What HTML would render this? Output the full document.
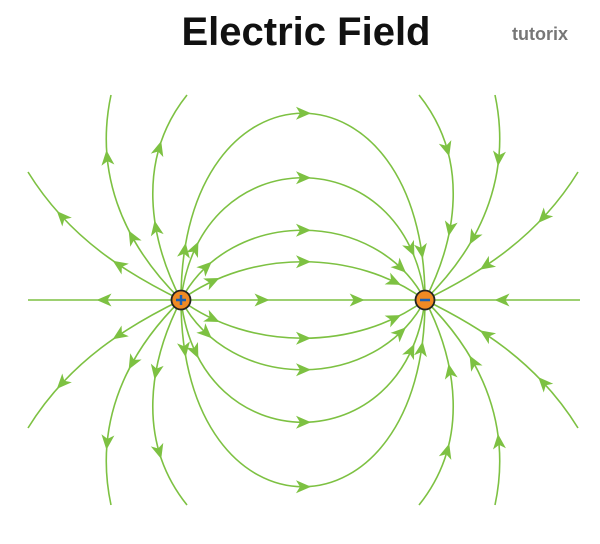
<!DOCTYPE html>
<html><head><style>
html,body{margin:0;padding:0;background:#fff;width:600px;height:544px;overflow:hidden}
.t{position:absolute;left:0;width:612px;top:10px;text-align:center;font:bold 40px "Liberation Sans",sans-serif;color:#111}
.l{position:absolute;left:512px;top:24px;font:bold 18px "Liberation Sans",sans-serif;color:#777}
</style></head><body>
<div class="t">Electric Field</div>
<div class="l">tutorix</div>
<svg id="s" width="600" height="544" style="position:absolute;left:0;top:0" xmlns="http://www.w3.org/2000/svg"></svg>
<script>
var s=document.getElementById('s'),NS='http://www.w3.org/2000/svg',G='#7dc142';
function mk(d,arr){var p=document.createElementNS(NS,'path');p.setAttribute('d',d);p.setAttribute('fill','none');p.setAttribute('stroke',G);p.setAttribute('stroke-width','1.6');s.appendChild(p);
var L=p.getTotalLength();arr.forEach(function(a){var f=a[0],rev=a[1];var q=p.getPointAtLength(f*L),q2=p.getPointAtLength(Math.min(L,f*L+1)),q0=p.getPointAtLength(Math.max(0,f*L-1));var ang=Math.atan2(q2.y-q0.y,q2.x-q0.x)*180/Math.PI+(rev?180:0);
var t=document.createElementNS(NS,'path');t.setAttribute('d','M8,0 L-7,-6.5 L-3,0 L-7,6.5 Z');t.setAttribute('fill',G);t.setAttribute('transform','translate('+q.x+','+q.y+') rotate('+ang+')');s.appendChild(t);});}
function fy(d){return d.replace(/(-?[\d.]+),(-?[\d.]+)/g,function(m,x,y){return x+','+(600-y)})}
function fx(d){return d.replace(/(-?[\d.]+),(-?[\d.]+)/g,function(m,x,y){return (606-x)+','+y})}
// arcs
var arcs=[['M181,300 C181,51 425,51 425,300',0.1],['M181,300 C200,137 406,137 425,300',0.14],['M181,300 C230,207 376,207 425,300',0.14],['M181,300 C250,249 356,249 425,300',0.14]];
arcs.forEach(function(a){var d=a[0],f=a[1];var A=[[0.5,0],[f,0],[1-f,0]];mk(d,A);mk(fy(d),A);});
mk('M181,300 L425,300',[[0.33,0],[0.72,0]]);
// outer
var outs=['M181,300 C130,275 70,240 28,172','M181,300 C120,240 95,170 111,95','M181,300 C150,240 135,160 187,95'];
outs.forEach(function(d){[d,fy(d)].forEach(function(e){mk(e,[[0.35,0],[0.72,0]]);mk(fx(e),[[0.35,1],[0.72,1]]);});});
mk('M181,300 L28,300',[[0.5,0]]);mk('M425,300 L580,300',[[0.5,1]]);
// charges
[[181,'+'],[425,'-']].forEach(function(c){var ci=document.createElementNS(NS,'circle');ci.setAttribute('cx',c[0]);ci.setAttribute('cy',300);ci.setAttribute('r',9.5);ci.setAttribute('fill','#f08a24');ci.setAttribute('stroke','#222');ci.setAttribute('stroke-width','1.8');s.appendChild(ci);
var d=c[1]=='+'?'M'+(c[0]-5)+',300 H'+(c[0]+5)+' M'+c[0]+',295 V305':'M'+(c[0]-5)+',300 H'+(c[0]+5);var p=document.createElementNS(NS,'path');p.setAttribute('d',d);p.setAttribute('stroke','#1a5fb4');p.setAttribute('stroke-width','2.5');s.appendChild(p);});
</script>
</body></html>
